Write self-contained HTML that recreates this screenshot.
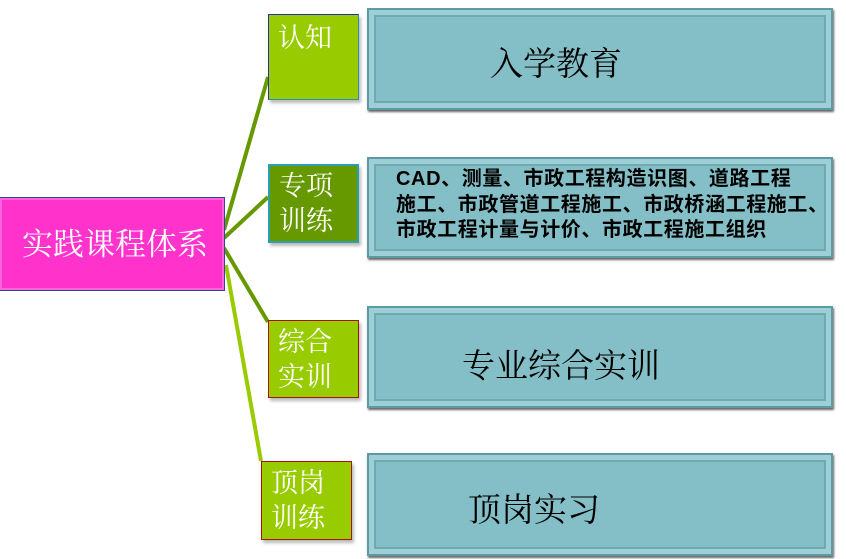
<!DOCTYPE html>
<html><head><meta charset="utf-8"><style>
body{margin:0;width:846px;height:559px;background:#fff;position:relative;overflow:hidden;font-family:"Liberation Serif","Noto Serif CJK SC",serif}
.b{position:absolute;box-sizing:border-box}
.g{color:#fff;font-size:27px;line-height:35px;padding-left:9px;box-shadow:2px 3px 3px #bbb}
.t{background:#84bec6;border:2px solid #5f9aa2;box-shadow:inset 0 0 0 5px #9dd0d6,inset 0 0 0 7px #6fa9b1,1px 2px 2px #666}
.tx{position:absolute;color:#000;font-size:33px;white-space:nowrap}
</style></head><body>
<svg class="b" style="left:0;top:0" width="846" height="559">
<line x1="224" y1="230" x2="268" y2="77" stroke="#669900" stroke-width="4"/>
<line x1="224" y1="238" x2="268" y2="197" stroke="#669900" stroke-width="4"/>
<line x1="224" y1="248" x2="268" y2="322" stroke="#669900" stroke-width="4"/>
<line x1="226" y1="265" x2="261" y2="461" stroke="#99cc00" stroke-width="4"/>
</svg>
<div class="b" style="left:0;top:197px;width:225px;height:94px;background:#ff33cc;border:1px solid #334499;border-left:none;color:#fff;font-size:31px;line-height:94px;padding-left:22px;box-shadow:inset 0 0 0 2px #ff66dd">实践课程体系</div>
<div class="b g" style="left:268px;top:14px;width:91px;height:86px;background:#99cc00;border:1px solid #2a8fb0;border-top-color:#2233aa;border-left-color:#2233aa;padding-top:6px">认知</div>
<div class="b g" style="left:268px;top:164px;width:91px;height:79px;background:#669900;border:2px solid #2a9fb0;padding-top:3px">专项<br>训练</div>
<div class="b g" style="left:268px;top:320px;width:91px;height:78px;background:#99cc00;border:1px solid #aa1111;padding-top:4px">综合<br>实训</div>
<div class="b g" style="left:261px;top:461px;width:91px;height:79px;background:#99cc00;border:1px solid #aa1111;padding-top:4px">顶岗<br>训练</div>
<div class="b t" style="left:367px;top:8px;width:466px;height:102px"></div>
<div class="b t" style="left:367px;top:157px;width:466px;height:101px"></div>
<div class="b t" style="left:367px;top:306px;width:466px;height:102px"></div>
<div class="b t" style="left:367px;top:453px;width:466px;height:103px"></div>
<div class="tx" style="left:490px;top:38px">入学教育</div>
<div class="tx" style="left:462px;top:340px">专业综合实训</div>
<div class="tx" style="left:468px;top:484px">顶岗实习</div>
<div class="tx" style="left:396px;top:167px;font-size:20px;line-height:25.5px;letter-spacing:0.6px;font-weight:bold;font-family:'Liberation Sans','Noto Sans CJK SC',sans-serif">CAD、测量、市政工程构造识图、道路工程<br>施工、市政管道工程施工、市政桥涵工程施工、<br>市政工程计量与计价、市政工程施工组织</div>
</body></html>
